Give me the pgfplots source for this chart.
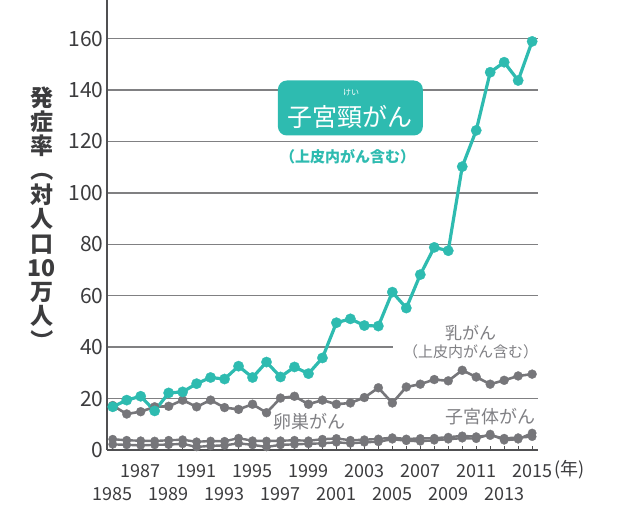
\documentclass[border=0pt]{standalone}
\usepackage{fontspec}
\setmainfont{Noto Sans CJK JP}
\usepackage{graphicx}
\usepackage{pgfplots}
\pgfplotsset{compat=1.18}
\definecolor{tealc}{RGB}{46,187,176}
\definecolor{grayline}{RGB}{118,118,122}
\definecolor{graytext}{RGB}{128,128,132}
\definecolor{gridc}{RGB}{128,128,130}
\definecolor{axisc}{RGB}{80,80,82}
\definecolor{labc}{RGB}{60,60,62}
\begin{document}
\begin{tikzpicture}
\useasboundingbox (-107pt,-59pt) rectangle (510pt,450pt);
\begin{axis}[
  at={(0,0)}, anchor=south west,
  scale only axis, width=431pt, height=450pt,
  xmin=1984.59, xmax=2015.42, ymin=0, ymax=175,
  clip=false,
  axis lines=left,
  axis line style={-, draw=axisc, line width=1.8pt},
  ytick={0,20,...,160},
  ymajorgrids,
  grid style={gridc, line width=1.5pt},
  xtick={1987,1991,...,2015},
  minor xtick={1985,1986,...,2015},
  extra x ticks={1985,1989,...,2013},
  extra x tick style={tick label style={yshift=-23.5pt}, grid=none},
  tick align=inside,
  major tick length=4pt, minor tick length=4pt,
  tick style={axisc, line width=0.8pt},
  ytick style={draw=none},
  /pgf/number format/assume math mode=true,
  xticklabel style={font=\fontsize{18}{20}\selectfont, text=labc, anchor=center, yshift=-21pt, /pgf/number format/1000 sep={}},
  yticklabel style={font=\fontsize{21}{23}\selectfont, text=labc},
]
% white background of breast cancer label
\fill[white] (axis cs:2005.05,34.4) rectangle (axis cs:2015.6,51.3);

% ovarian
\addplot[grayline, line width=2.4pt, mark=*, mark size=4.2pt, mark options={line width=0.3pt}] coordinates {
(1985,4.2)(1986,3.8)(1987,3.6)(1988,3.5)(1989,3.8)(1990,4.0)(1991,3.2)(1992,3.5)(1993,3.4)(1994,4.6)
(1995,3.6)(1996,3.5)(1997,3.6)(1998,3.8)(1999,3.6)(2000,4.2)(2001,4.5)(2002,3.8)(2003,4.0)(2004,4.3)
(2005,4.8)(2006,4.3)(2007,4.5)(2008,4.6)(2009,5.0)(2010,5.5)(2011,5.2)(2012,5.6)(2013,4.6)(2014,4.8)(2015,5.2)};
% uterine body
\addplot[grayline, line width=2.4pt, mark=*, mark size=4.2pt, mark options={line width=0.3pt}] coordinates {
(1985,2.2)(1986,2.0)(1987,1.8)(1988,2.0)(1989,2.1)(1990,2.4)(1991,1.2)(1992,1.6)(1993,1.8)(1994,2.6)
(1995,2.0)(1996,1.2)(1997,2.0)(1998,2.2)(1999,2.4)(2000,2.6)(2001,3.0)(2002,2.6)(2003,3.0)(2004,3.2)
(2005,4.2)(2006,3.6)(2007,3.4)(2008,3.8)(2009,4.2)(2010,4.6)(2011,4.4)(2012,6.2)(2013,3.8)(2014,4.2)(2015,6.6)};
% breast
\addplot[grayline, line width=2.6pt, mark=*, mark size=4.5pt, mark options={line width=0.3pt}] coordinates {
(1985,17.3)(1986,14.0)(1987,14.9)(1988,16.8)(1989,17.0)(1990,19.4)(1991,16.8)(1992,19.4)(1993,16.5)(1994,15.8)
(1995,17.8)(1996,14.5)(1997,20.2)(1998,20.9)(1999,17.8)(2000,19.4)(2001,17.8)(2002,18.3)(2003,20.4)(2004,24.2)
(2005,18.3)(2006,24.5)(2007,25.6)(2008,27.4)(2009,26.9)(2010,31.0)(2011,28.4)(2012,25.6)(2013,27.1)(2014,28.8)(2015,29.5)};
% cervical
\addplot[tealc, line width=3.2pt, mark=*, mark size=5.2pt, mark options={line width=0.3pt}] coordinates {
(1985,16.8)(1986,19.4)(1987,20.9)(1988,15.2)(1989,22.2)(1990,22.6)(1991,25.8)(1992,28.2)(1993,27.6)(1994,32.6)
(1995,28.2)(1996,34.2)(1997,28.4)(1998,32.3)(1999,29.7)(2000,35.8)(2001,49.5)(2002,51.0)(2003,48.4)(2004,48.2)
(2005,61.4)(2006,55.2)(2007,68.2)(2008,78.8)(2009,77.5)(2010,110.2)(2011,124.3)(2012,146.9)(2013,150.8)(2014,143.7)(2015,158.9)};

% cervical label box
\node[fill=tealc, rounded corners=9pt, minimum width=145pt, minimum height=55pt, inner sep=0pt] at (axis cs:2002.0,133.0) {};
\node[text=white, font=\fontsize{25}{27}\selectfont, inner sep=0pt] at (axis cs:2002.0,129.6) {子宮頸がん};
\node[text=white, font=\fontsize{8}{9}\selectfont, inner sep=0pt] at (axis cs:2002.05,138.8) {けい};
\node[text=tealc, font=\bfseries\fontsize{15}{16}\selectfont, inner sep=0pt] at (axis cs:2001.8,114.2) {（上皮内がん含む）};

% gray labels
\node[text=graytext, font=\fontsize{17}{18}\selectfont, inner sep=0pt] at (axis cs:2010.6,45.4) {乳がん};
\node[text=graytext, font=\fontsize{15}{16}\selectfont, inner sep=0pt] at (axis cs:2010.6,38.1) {（上皮内がん含む）};
\node[text=graytext, font=\fontsize{18}{19}\selectfont, inner sep=0pt] at (axis cs:1999.1,10.9) {卵巣がん};
\node[text=graytext, font=\fontsize{18}{19}\selectfont, inner sep=0pt] at (axis cs:2012.0,12.8) {子宮体がん};

% year unit
\node[text=labc, font=\fontsize{18}{20}\selectfont, inner sep=0pt] at (axis cs:2017.7,-7.8) {(年)};

% y label
\node[text=labc, font=\bfseries\fontsize{23}{24.3}\selectfont, align=center, inner sep=0pt] at (axis cs:1979.94,89.7)
  {発\\症\\率\\\rotatebox[origin=c]{-90}{（}\\対\\人\\口\\10\\万\\人\\\rotatebox[origin=c]{-90}{）}};
\end{axis}
\end{tikzpicture}
\end{document}
